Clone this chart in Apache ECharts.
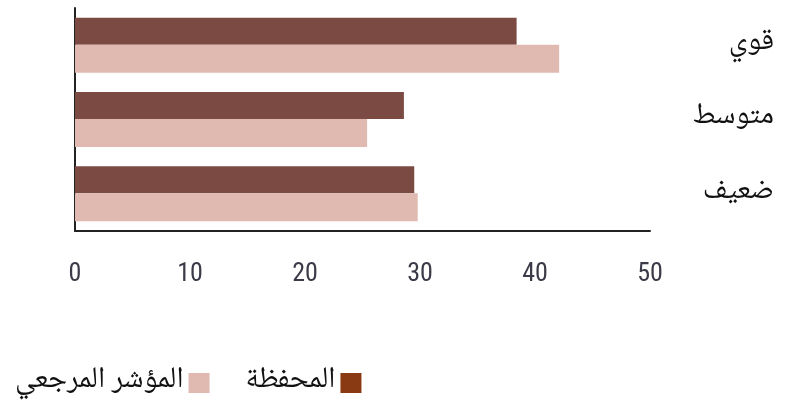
<!DOCTYPE html>
<html>
<head>
<meta charset="utf-8">
<script src="https://cdn.jsdelivr.net/npm/echarts@6/dist/echarts.min.js"></script>
<style>
  html, body { margin: 0; padding: 0; background: #fff; }
  #chart { width: 787px; height: 408px; }
</style>
</head>
<body>
<div id="chart"></div>
<script>
// Risk buckets, top to bottom
const categories = ['قوي', 'متوسط', 'ضعيف'];
// Portfolio vs benchmark allocation (%)
const portfolio = [38.4, 28.6, 29.5];
const benchmark = [42.1, 25.4, 29.8];
const xTicks = [0, 10, 20, 30, 40, 50];

const portfolioName = 'المحفظة';
const benchmarkName = 'المؤشر المرجعي';

const arabicFont = "'Noto Naskh Arabic', 'Amiri', 'DejaVu Sans', sans-serif";
const numFont = "'Liberation Sans Narrow', 'Roboto Condensed', 'DejaVu Sans Condensed', sans-serif";

const chart = echarts.init(document.getElementById('chart'), null, { renderer: 'canvas' });

chart.setOption({
  animation: false,
  backgroundColor: '#ffffff',
  grid: { left: 75, right: 137, top: 8, bottom: 177, containLabel: false, outerBoundsMode: 'none' },
  legend: {
    left: 10,
    bottom: 5,
    align: 'right',
    itemWidth: 21,
    itemHeight: 20,
    itemGap: 36,
    icon: 'rect',
    textStyle: { fontFamily: arabicFont, fontSize: 30, color: '#111' },
    data: [
      { name: benchmarkName, itemStyle: { color: '#E0BAB0' } },
      { name: portfolioName, itemStyle: { color: '#8A3A12' } }
    ]
  },
  xAxis: {
    type: 'value',
    min: xTicks[0],
    max: xTicks[xTicks.length - 1],
    interval: 10,
    axisLine: { show: true, lineStyle: { color: '#222', width: 2 } },
    axisTick: { show: false },
    splitLine: { show: false },
    axisLabel: {
      margin: 30,
      fontFamily: numFont,
      fontSize: 26,
      color: '#3a3a48'
    }
  },
  yAxis: [
    {
      type: 'category',
      data: categories,
      inverse: true,
      position: 'left',
      axisLine: { show: true, lineStyle: { color: '#222', width: 2 } },
      axisTick: { show: false },
      axisLabel: { show: false }
    },
    {
      type: 'category',
      data: categories,
      inverse: true,
      position: 'right',
      axisLine: { show: false },
      axisTick: { show: false },
      axisLabel: {
        margin: 124,
        align: 'right',
        padding: [5, 0, 0, 0],
        fontFamily: arabicFont,
        fontSize: 30,
        color: '#111'
      }
    }
  ],
  series: [
    {
      name: portfolioName,
      type: 'bar',
      yAxisIndex: 0,
      data: portfolio,
      barWidth: 27,
      barGap: '0%',
      itemStyle: { color: '#7B4A42' }
    },
    {
      name: benchmarkName,
      type: 'bar',
      yAxisIndex: 0,
      data: benchmark,
      barWidth: 28,
      barGap: '0%',
      itemStyle: { color: '#E0BAB0' }
    }
  ]
});
</script>
</body>
</html>
